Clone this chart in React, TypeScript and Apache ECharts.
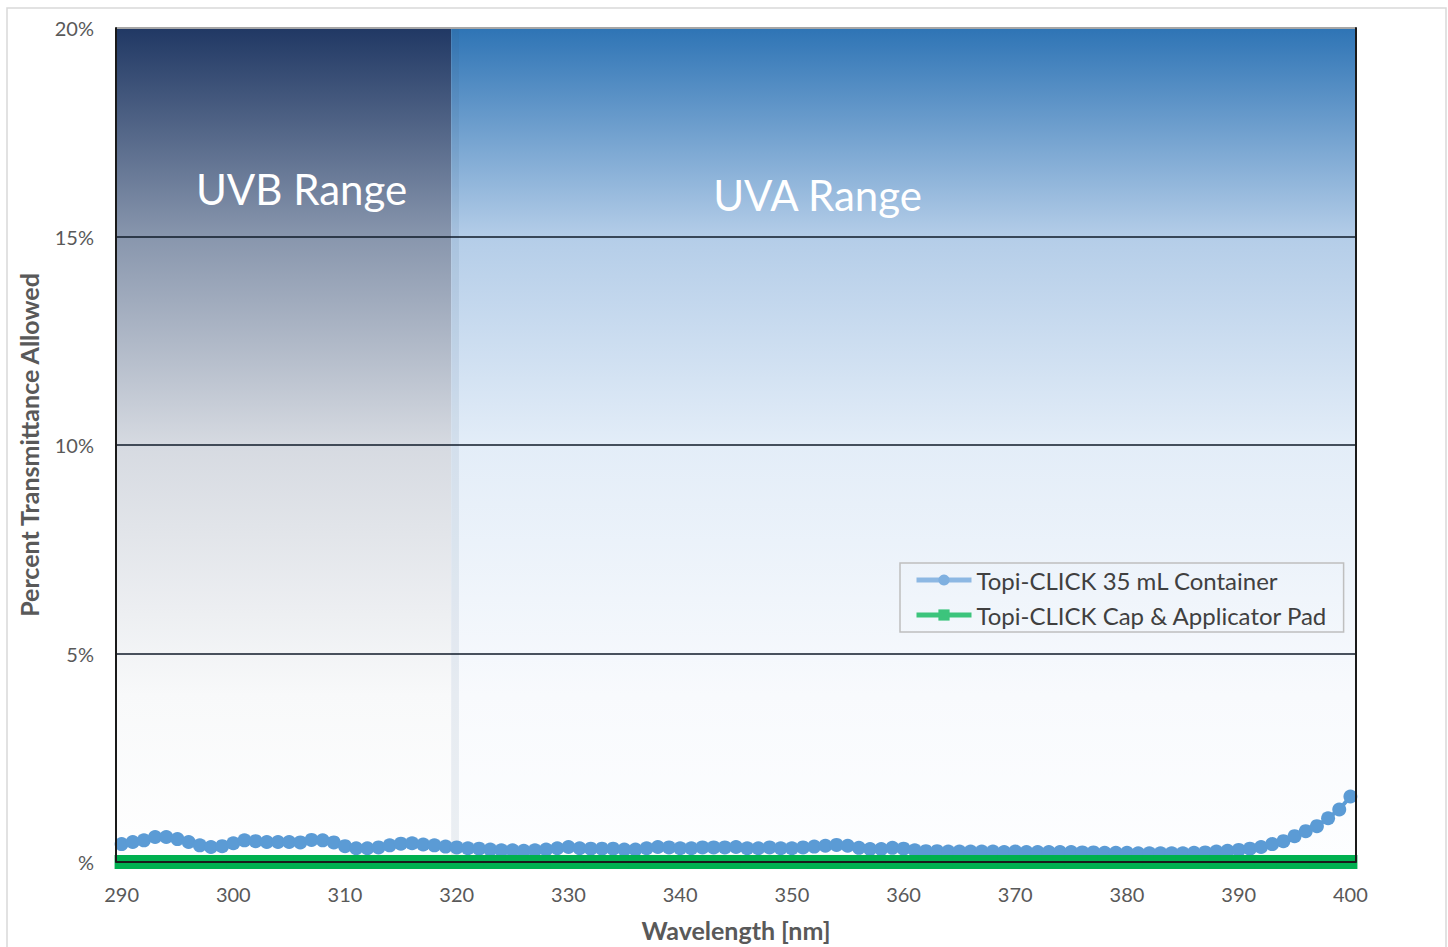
import React, { useEffect, useRef } from "react";
import * as echarts from "echarts";

const wavelengths: string[] = [];
for (let w = 290; w <= 400; w++) wavelengths.push(String(w));

const containerValues = [
  0.43, 0.48, 0.52, 0.6, 0.6, 0.55, 0.48, 0.4, 0.36, 0.38,
  0.45, 0.52, 0.5, 0.48, 0.48, 0.48, 0.47, 0.53, 0.52, 0.47,
  0.38, 0.33, 0.33, 0.35, 0.4, 0.44, 0.45, 0.42, 0.4, 0.37,
  0.35, 0.33, 0.32, 0.3, 0.28, 0.28, 0.27, 0.28, 0.3, 0.33,
  0.36, 0.33, 0.32, 0.32, 0.32, 0.3, 0.3, 0.33, 0.36, 0.35,
  0.33, 0.33, 0.35, 0.35, 0.35, 0.36, 0.33, 0.33, 0.35, 0.33,
  0.33, 0.35, 0.37, 0.39, 0.41, 0.39, 0.34, 0.31, 0.31, 0.34,
  0.32, 0.28, 0.26, 0.26, 0.25, 0.25, 0.25, 0.25, 0.25, 0.24,
  0.25, 0.24, 0.24, 0.24, 0.24, 0.24, 0.23, 0.23, 0.22, 0.22,
  0.22, 0.21, 0.21, 0.21, 0.21, 0.21, 0.22, 0.23, 0.25, 0.27,
  0.29, 0.32, 0.36, 0.43, 0.5, 0.62, 0.74, 0.86, 1.05, 1.26,
  1.57,
];

const capValues = [
  0, 0, 0, 0, 0, 0, 0, 0, 0, 0,
  0, 0, 0, 0, 0, 0, 0, 0, 0, 0,
  0, 0, 0, 0, 0, 0, 0, 0, 0, 0,
  0, 0, 0, 0, 0, 0, 0, 0, 0, 0,
  0, 0, 0, 0, 0, 0, 0, 0, 0, 0,
  0, 0, 0, 0, 0, 0, 0, 0, 0, 0,
  0, 0, 0, 0, 0, 0, 0, 0, 0, 0,
  0, 0, 0, 0, 0, 0, 0, 0, 0, 0,
  0, 0, 0, 0, 0, 0, 0, 0, 0, 0,
  0, 0, 0, 0, 0, 0, 0, 0, 0, 0,
  0, 0, 0, 0, 0, 0, 0, 0, 0, 0,
  0,
];

const seriesNames = ["Topi-CLICK 35 mL Container", "Topi-CLICK Cap & Applicator Pad"];
const uvbRange = [289.5, 319.5];
const uvaRange = [319.5, 400.5];
const seamRange = [319.5, 320.2];
const yTicks = [0, 5, 10, 15, 20];

const FONT = "Lato, 'Open Sans', sans-serif";

export default function App() {
  const ref = useRef<HTMLDivElement>(null);
  useEffect(() => {
    if (!ref.current) return;
    const chart = echarts.init(ref.current, undefined, { renderer: "svg", width: 1448, height: 947 });
    const uvbGrad = new echarts.graphic.LinearGradient(0, 0, 0, 1, [
      { offset: 0, color: "#203864" },
      { offset: 0.25, color: "#8896ad" },
      { offset: 0.5, color: "#d6dae1" },
      { offset: 0.8, color: "#f8f9fa" },
      { offset: 1, color: "#ffffff" },
    ]);
    const uvaGrad = new echarts.graphic.LinearGradient(0, 0, 0, 1, [
      { offset: 0, color: "#2e74b5" },
      { offset: 0.25, color: "#b4cde8" },
      { offset: 0.5, color: "#e3edf8" },
      { offset: 0.8, color: "#f8fafd" },
      { offset: 1, color: "#fdfeff" },
    ]);
    chart.setOption({
      animation: false,
      textStyle: { fontFamily: FONT },
      grid: { left: 116, width: 1240, top: 28, height: 840 },
      graphic: [
        {
          type: "rect",
          shape: { x: 7, y: 8, width: 1439, height: 960 },
          style: { fill: "none", stroke: "#d9d9d9", lineWidth: 1.5 },
          silent: true,
          z: -10,
        },
      ],
      legend: {
        orient: "vertical",
        left: 900,
        top: 563,
        padding: [5, 16, 5, 14],
        itemGap: 11,
        itemWidth: 55,
        itemHeight: 14,
        borderColor: "#bfbfbf",
        borderWidth: 1.5,
        textStyle: { fontSize: 24, color: "#404040", fontFamily: FONT },
        data: [
          { name: seriesNames[0], itemStyle: { color: "#7fb0e0" }, lineStyle: { color: "#8db8e3", width: 5 } },
          { name: seriesNames[1], itemStyle: { color: "#3cc47c" }, lineStyle: { color: "#3cc47c", width: 5 } },
        ],
      },
      xAxis: [
        {
          type: "category",
          data: wavelengths,
          boundaryGap: true,
          axisLine: { show: false },
          axisTick: { show: false },
          axisLabel: { interval: 9, fontSize: 20, color: "#595959", margin: 22 },
          name: "Wavelength [nm]",
          nameLocation: "middle",
          nameGap: 55,
          nameTextStyle: { fontSize: 25, fontWeight: "bold", color: "#595959" },
          z: 5,
        },
        {
          type: "value",
          min: 289.5,
          max: 400.5,
          show: false,
        },
      ],
      yAxis: [
        {
          type: "value",
          min: 0,
          max: 20,
          interval: 5,
          axisLine: { show: true, lineStyle: { color: "#1a1a1a", width: 2 } },
          axisTick: { show: false },
          axisLabel: {
            fontSize: 20,
            color: "#595959",
            margin: 22,
            formatter: (v: number) => (v === 0 ? "%" : v + "%"),
          },
          splitLine: {
            show: true,
            lineStyle: {
              color: ["#1a1a1a", "rgba(15,25,40,0.75)", "rgba(15,25,40,0.75)", "rgba(15,25,40,0.75)", "#a6a6a6"],
              width: 2,
            },
          },
          name: "Percent Transmittance Allowed",
          nameLocation: "middle",
          nameGap: 75,
          nameRotate: 90,
          nameTextStyle: { fontSize: 25, fontWeight: "bold", color: "#595959" },
          z: 5,
        },
        {
          type: "value",
          min: 0,
          max: 20,
          interval: 5,
          position: "right",
          axisLine: { show: true, lineStyle: { color: "#1a1a1a", width: 2 } },
          axisTick: { show: false },
          axisLabel: { show: false },
          splitLine: { show: false },
          z: 5,
        },
      ],
      series: [
        {
          type: "line",
          name: "bg",
          xAxisIndex: 1,
          yAxisIndex: 0,
          data: [],
          silent: true,
          z: 0,
          markArea: {
            silent: true,
            data: [
              [
                {
                  name: "UVB Range",
                  xAxis: uvbRange[0],
                  yAxis: yTicks[0],
                  itemStyle: { color: uvbGrad },
                  label: { offset: [18, -256] },
                },
                { xAxis: uvbRange[1], yAxis: yTicks[4] },
              ],
              [
                {
                  name: "UVA Range",
                  xAxis: uvaRange[0],
                  yAxis: yTicks[0],
                  itemStyle: { color: uvaGrad },
                  label: { offset: [-86, -250] },
                },
                { xAxis: uvaRange[1], yAxis: yTicks[4] },
              ],
              [
                {
                  name: "",
                  xAxis: seamRange[0],
                  yAxis: yTicks[0],
                  itemStyle: { color: "rgba(60,90,120,0.09)" },
                  label: { show: false },
                },
                { xAxis: seamRange[1], yAxis: yTicks[4] },
              ],
            ],
            label: {
              show: true,
              position: "inside",
              color: "#ffffff",
              fontSize: 42,
              fontFamily: FONT,
            },
          },
        },
        {
          type: "line",
          name: seriesNames[0],
          data: containerValues,
          symbol: "circle",
          symbolSize: 14,
          showAllSymbol: true,
          clip: false,
          lineStyle: { color: "#5b9bd5", width: 4 },
          itemStyle: { color: "#5b9bd5" },
          z: 3,
        },
        {
          type: "line",
          name: seriesNames[1],
          data: capValues,
          symbol: "rect",
          symbolSize: 14,
          showAllSymbol: true,
          clip: false,
          lineStyle: { color: "#00b050", width: 4 },
          itemStyle: { color: "#00b050" },
          z: 4,
        },
      ],
    });
    return () => chart.dispose();
  }, []);
  return (
    <div
      ref={ref}
      style={{ position: "fixed", left: 0, top: 0, width: 1448, height: 947, background: "#ffffff" }}
    />
  );
}
